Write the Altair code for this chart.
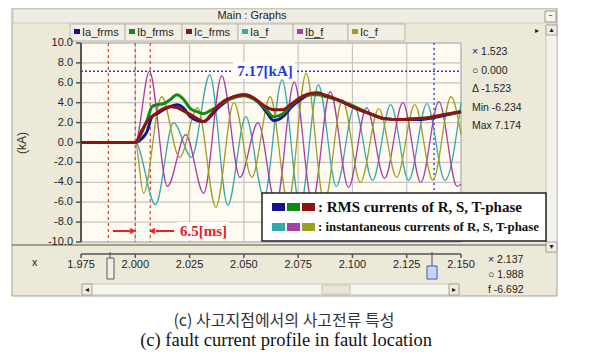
import altair as alt
import pandas as pd

# ---------------- values ----------------
# instantaneous phase currents (kA): extrema
t_ia = [1.975, 2.000, 2.0093, 2.0176, 2.0259, 2.0343, 2.0426, 2.0509, 2.0593, 2.0676,
        2.0759, 2.0843, 2.0926, 2.1009, 2.1093, 2.1176, 2.1259, 2.1343, 2.1426, 2.1500]
ia_f = [0, 0, -6.25, 2.0, -1.5, 6.8, -6.3, 2.6, -5.5, 6.3,
        -6.4, 5.8, -4.4, 3.6, -3.8, 3.8, -3.8, 3.9, -3.8, 4.0]

t_ib = [1.975, 2.000, 2.0065, 2.0148, 2.0232, 2.0315, 2.0398, 2.0482, 2.0565, 2.0648,
        2.0732, 2.0815, 2.0898, 2.0982, 2.1065, 2.1148, 2.1232, 2.1315, 2.1398, 2.1482, 2.150]
ib_f = [0, 0, 7.17, -4.4, 0.8, -5.1, 6.7, -3.5, 2.0, -6.23,
        6.1, -6.0, 5.1, -4.5, 3.5, -3.6, 4.0, -4.0, 4.1, -4.4, -4.2]

t_ic = [1.975, 2.000, 2.0038, 2.0121, 2.0204, 2.0287, 2.0371, 2.0454, 2.0537, 2.0621,
        2.0704, 2.0787, 2.0871, 2.0954, 2.1037, 2.1121, 2.1204, 2.1287, 2.1371, 2.1454, 2.150]
ic_f = [0, 0, -5.1, 4.6, -1.5, 3.5, -6.5, 4.0, -3.5, 4.6,
        -6.0, 6.95, -6.0, 4.3, -4.0, 3.4, -3.5, 3.8, -3.8, 4.6, 0.8]

# RMS currents (kA)
t_rms = [1.975, 2.000, 2.003, 2.0054, 2.0077, 2.010, 2.013, 2.016, 2.0192, 2.022,
         2.0254, 2.0285, 2.0315, 2.0345, 2.0377, 2.041, 2.0454, 2.050, 2.055, 2.060,
         2.0637, 2.068, 2.072, 2.076, 2.080, 2.084, 2.088, 2.093, 2.098, 2.103,
         2.108, 2.1146, 2.1224, 2.130, 2.1349, 2.142, 2.150]
ia_frms = [0, 0, 0.4, 1.1, 2.6, 2.9, 3.3, 3.6, 3.8, 3.5,
           2.6, 2.2, 2.1, 2.6, 3.4, 4.0, 4.6, 4.8, 4.4, 3.2,
           2.2, 2.6, 3.6, 4.3, 4.8, 4.9, 4.7, 4.3, 3.8, 3.3,
           2.9, 2.4, 2.3, 2.3, 2.4, 2.7, 3.1]
ib_frms = [0, 0, 1.0, 2.2, 3.6, 3.8, 3.9, 4.3, 4.8, 4.4,
           3.4, 3.1, 2.9, 3.2, 3.6, 4.1, 4.5, 4.7, 4.3, 3.4,
           2.6, 2.9, 3.8, 4.5, 4.8, 4.8, 4.6, 4.3, 3.9, 3.4,
           2.9, 2.4, 2.3, 2.4, 2.5, 2.8, 3.1]
ic_frms = [0, 0, 1.2, 2.1, 2.6, 3.0, 3.4, 3.6, 3.5, 3.2,
           2.8, 2.4, 2.1, 2.7, 3.6, 4.2, 4.6, 4.8, 4.4, 3.6,
           3.3, 3.3, 3.9, 4.5, 4.9, 5.0, 4.7, 4.3, 3.8, 3.3,
           2.9, 2.4, 2.3, 2.4, 2.5, 2.8, 3.1]

series_names = ["Ia_frms", "Ib_frms", "Ic_frms", "Ia_f", "Ib_f", "Ic_f"]
series_colors = ["#14148C", "#128A12", "#8E1414", "#32AAAA", "#A83CA8", "#9E9E22"]

x_ticks = [1.975, 2.000, 2.025, 2.050, 2.075, 2.100, 2.125, 2.150]
y_ticks = [-10, -8, -6, -4, -2, 0, 2, 4, 6, 8, 10]
red_markers = [1.9876, 2.000, 2.0069]
blue_cursor = [2.1376]
peak_level = [7.17]

readouts = ["\u00d7 1.523", "\u25cb 0.000", "\u0394 -1.523", "Min -6.234", "Max 7.174"]
cursor_readouts = ["\u00d7 2.137", "\u25cb 1.988", "f  -6.692"]
peak_label = "7.17[kA]"
delay_label = "6.5[ms]"
legend_rows = [": RMS currents of R, S, T-phase", ": instantaneous currents of R, S, T-phase"]
caption_ko = "(c) 사고지점에서의 사고전류 특성"
caption_en = "(c) fault current profile in fault location"

# ---------------- layout ----------------
W, H = 380, 199
OX, OY = 81, 43          # image position of plot origin


def rx(v):
    return v - OX


def ry(v):
    return v - OY


xs = alt.Scale(domain=[1.975, 2.150], nice=False, zero=False)
ys = alt.Scale(domain=[-10, 10], nice=False, zero=False)

PX = dict(scale=None, axis=None)


def rect_layer(items):
    df = pd.DataFrame([dict(x=rx(a), x2=rx(c), y=ry(b), y2=ry(d), f=f, s=s, w=w)
                       for a, b, c, d, f, s, w in items])
    return alt.Chart(df).mark_rect().encode(
        x=alt.X("x:Q", **PX), x2="x2:Q",
        y=alt.Y("y:Q", **PX), y2="y2:Q",
        fill=alt.Fill("f:N", scale=None),
        stroke=alt.Stroke("s:N", scale=None),
        strokeWidth=alt.StrokeWidth("w:Q", scale=None),
    )


def text_layer(items, **mk):
    df = pd.DataFrame([dict(x=rx(a), y=ry(b), t=t, c=c) for a, b, t, c in items])
    return alt.Chart(df).mark_text(baseline="middle", **mk).encode(
        x=alt.X("x:Q", **PX), y=alt.Y("y:Q", **PX), text="t:N",
        color=alt.Color("c:N", scale=None),
    )


def seg_layer(items, **mk):
    df = pd.DataFrame([dict(x=rx(a), y=ry(b), x2=rx(c), y2=ry(d)) for a, b, c, d in items])
    return alt.Chart(df).mark_rule(**mk).encode(
        x=alt.X("x:Q", **PX), x2="x2:Q", y=alt.Y("y:Q", **PX), y2="y2:Q")


SANS = "Liberation Sans"
SERIF = "Liberation Serif"
TXT = "#1E1E1E"

tab_x = [70, 125, 182, 238, 293, 348, 405]

frame_rects = [
    (12, 8, 557, 296, "#ECE9D8", "#A5A28F", 1),
    (13, 9, 556, 23, "#EFEDE4", "#CFCBBB", 1),
    (545, 11, 556, 22, "#F6F5F0", "#9E9B8B", 1),
    (546, 25, 557, 252, "#F3F2EC", "#C9C6B6", 1),
    (546, 25, 557, 35, "#EDEBE2", "#A9A697", 1),
    (546, 242, 557, 252, "#EDEBE2", "#A9A697", 1),
    (82, 284, 459, 295, "#F5F4EF", "#C9C6B6", 1),
    (82, 284, 92, 295, "#EDEBE2", "#A9A697", 1),
    (449, 284, 459, 295, "#EDEBE2", "#A9A697", 1),
    (322, 285, 350, 294, "#E7E4D8", "#C9C6B6", 1),
    (81, 43, 461, 242, "#FFFBF0", "#A0A0A0", 1),
]
for i in range(6):
    frame_rects.append((tab_x[i], 24, tab_x[i + 1], 41, "#F1EFE6", "#BDB9A8", 1))
    frame_rects.append((tab_x[i] + 4, 29, tab_x[i] + 10, 34, series_colors[i], series_colors[i], 0))
# cursor handles on the time strip
frame_rects.append((107, 258, 114, 279, "#EEEDE6", "#5A5A5A", 1))
frame_rects.append((427, 266, 437, 279, "#C9D5F2", "#3A58C0", 1))

tab_texts = [(252, 16, "Main : Graphs", TXT)]
for i in range(6):
    tab_texts.append((tab_x[i] + 12, 32.5, series_names[i], TXT))
frame_texts = [(32, 263, "x", TXT)]
for k, s in enumerate(readouts):
    frame_texts.append((472, [52, 70.5, 89, 107.5, 126][k], s, TXT))
for k, s in enumerate(cursor_readouts):
    frame_texts.append((488, [260, 275, 290][k], s, TXT))

glyph_texts = [
    (550.5, 15.5, "\u2013", TXT), (537, 31, "\u25b8", TXT), (551.5, 30, "\u25b4", TXT),
    (551.5, 247, "\u25be", TXT), (87, 289.5, "\u25c2", TXT), (454, 289.5, "\u25b8", TXT),
]

frame_lines = [
    (12, 245, 546, 245),
    (tab_x[4] + 12, 38.5, tab_x[4] + 31, 38.5),
    (110, 252, 110, 258),
    (432, 252, 432, 266),
]

# ---------------- chart layers ----------------
layers = []
layers.append(rect_layer(frame_rects))
layers.append(seg_layer(frame_lines, color="#555555", strokeWidth=1))
layers.append(text_layer(frame_texts, font=SANS, fontSize=10.5, align="left"))
layers.append(text_layer(tab_texts[1:], font=SANS, fontSize=11, align="left"))
layers.append(text_layer(tab_texts[:1], font=SANS, fontSize=11, align="center"))
layers.append(text_layer(glyph_texts, font="DejaVu Sans", fontSize=8, align="center"))
layers.append(text_layer([(22, 143, "(kA)", "#333333")], font=SANS, fontSize=12,
                         align="center", angle=270))

# grid
gx = pd.DataFrame({"t": x_ticks, "lab": [f"{v:.3f}" for v in x_ticks]})
gy = pd.DataFrame({"v": y_ticks, "lab": [f"{v:.1f}" for v in y_ticks]})
layers.append(alt.Chart(gx).mark_rule(color="#C4C4C4", strokeWidth=1.2).encode(
    x=alt.X("t:Q", scale=xs, axis=None), y=alt.value(0), y2=alt.value(H)))
layers.append(alt.Chart(gy).mark_rule(color="#C4C4C4", strokeWidth=1.2).encode(
    y=alt.Y("v:Q", scale=ys, axis=None), x=alt.value(0), x2=alt.value(W)))

# axes drawn by hand through the same scales
AX = "#555555"
layers.append(seg_layer([(81, 254, 461, 254)], color=AX, strokeWidth=1.5))
layers.append(seg_layer([(81, 43, 81, 242)], color=AX, strokeWidth=2))
layers.append(alt.Chart(gx).mark_rule(color=AX, strokeWidth=1.5).encode(
    x=alt.X("t:Q", scale=xs, axis=None), y=alt.value(ry(254)), y2=alt.value(ry(258))))
layers.append(alt.Chart(gx).mark_text(font=SANS, fontSize=11, color=TXT, baseline="middle",
                                      align="center").encode(
    x=alt.X("t:Q", scale=xs, axis=None), y=alt.value(ry(264.5)), text="lab:N"))
layers.append(alt.Chart(gy).mark_rule(color=AX, strokeWidth=1.5).encode(
    y=alt.Y("v:Q", scale=ys, axis=None), x=alt.value(-5), x2=alt.value(0)))
layers.append(alt.Chart(gy).mark_text(font=SANS, fontSize=11, color=TXT, baseline="middle",
                                      align="right").encode(
    y=alt.Y("v:Q", scale=ys, axis=None), x=alt.value(-8), text="lab:N"))

# marker lines
layers.append(alt.Chart(pd.DataFrame({"t": red_markers})).mark_rule(
    color="#FF3A3A", strokeWidth=1.3, strokeDash=[3, 3]).encode(
    x=alt.X("t:Q", scale=xs, axis=None), y=alt.value(0), y2=alt.value(H)))
layers.append(alt.Chart(pd.DataFrame({"t": blue_cursor})).mark_rule(
    color="#3050F0", strokeWidth=1.5, strokeDash=[2, 3]).encode(
    x=alt.X("t:Q", scale=xs, axis=None), y=alt.value(0), y2=alt.value(H)))
layers.append(alt.Chart(pd.DataFrame({"v": peak_level})).mark_rule(
    color="#2040F0", strokeWidth=1.5, strokeDash=[2, 2]).encode(
    y=alt.Y("v:Q", scale=ys, axis=None), x=alt.value(0), x2=alt.value(W)))


def curve(ts, vs, color, width):
    df = pd.DataFrame({"t": ts, "v": vs})
    return alt.Chart(df).mark_line(color=color, strokeWidth=width, interpolate="monotone").encode(
        x=alt.X("t:Q", scale=xs, axis=None), y=alt.Y("v:Q", scale=ys, axis=None))


layers.append(curve(t_ia, ia_f, series_colors[3], 1.3))
layers.append(curve(t_ib, ib_f, series_colors[4], 1.3))
layers.append(curve(t_ic, ic_f, series_colors[5], 1.3))
layers.append(curve(t_rms, ia_frms, series_colors[0], 3))
layers.append(curve(t_rms, ib_frms, series_colors[1], 3))
layers.append(curve(t_rms, ic_frms, series_colors[2], 3))

# annotations
ann_rects = [
    (233, 62, 295, 79, "#FFFFFF", "#FFFFFF", 0),
    (177, 222, 229, 240, "#FFFFFF", "#FFFFFF", 0),
    (262, 193, 546, 241, "#FFFFFF", "#222222", 1.5),
]
for k in range(3):
    ann_rects.append((272 + 15 * k, 203, 285 + 15 * k, 211, series_colors[k], series_colors[k], 0))
    ann_rects.append((272 + 15 * k, 223, 285 + 15 * k, 231, series_colors[3 + k], series_colors[3 + k], 0))
layers.append(rect_layer(ann_rects))

layers.append(seg_layer([(113, 231, 130, 231), (156, 231, 174, 231)], color="#F01E1E", strokeWidth=2))
arrow_df = pd.DataFrame({"x": [rx(133), rx(152)], "y": [ry(231), ry(231)],
                         "sh": ["triangle-right", "triangle-left"]})
layers.append(alt.Chart(arrow_df).mark_point(filled=True, size=45, color="#F01E1E", opacity=1).encode(
    x=alt.X("x:Q", **PX), y=alt.Y("y:Q", **PX), shape=alt.Shape("sh:N", scale=None)))

layers.append(text_layer([(265, 70.5, peak_label, "#1A3BE6")], font=SERIF, fontSize=15,
                         fontWeight="bold", align="center"))
layers.append(text_layer([(203.5, 231, delay_label, "#E8201C")], font=SERIF, fontSize=15,
                         fontWeight="bold", align="center"))
layers.append(text_layer([(318, 207, legend_rows[0], "#111111")], font=SERIF, fontSize=15,
                         fontWeight="bold", align="left"))
layers.append(text_layer([(318, 227, legend_rows[1], "#111111")], font=SERIF, fontSize=12.8,
                         fontWeight="bold", align="left"))

# captions
layers.append(text_layer([(284, 320.5, caption_ko, "#333333")], font="Noto Sans CJK KR",
                         fontSize=16, align="center"))
layers.append(text_layer([(286, 339.5, caption_en, "#111111")], font=SERIF,
                         fontSize=18.5, align="center"))

chart = alt.layer(*layers).properties(
    width=W, height=H,
    padding={"left": 73, "top": 35, "right": 123, "bottom": 109},
    autosize=alt.AutoSizeParams(type="none"),
    background="white",
).configure_view(strokeWidth=0)

chart.save("out.html", embed_options={"renderer": "svg", "actions": False})
